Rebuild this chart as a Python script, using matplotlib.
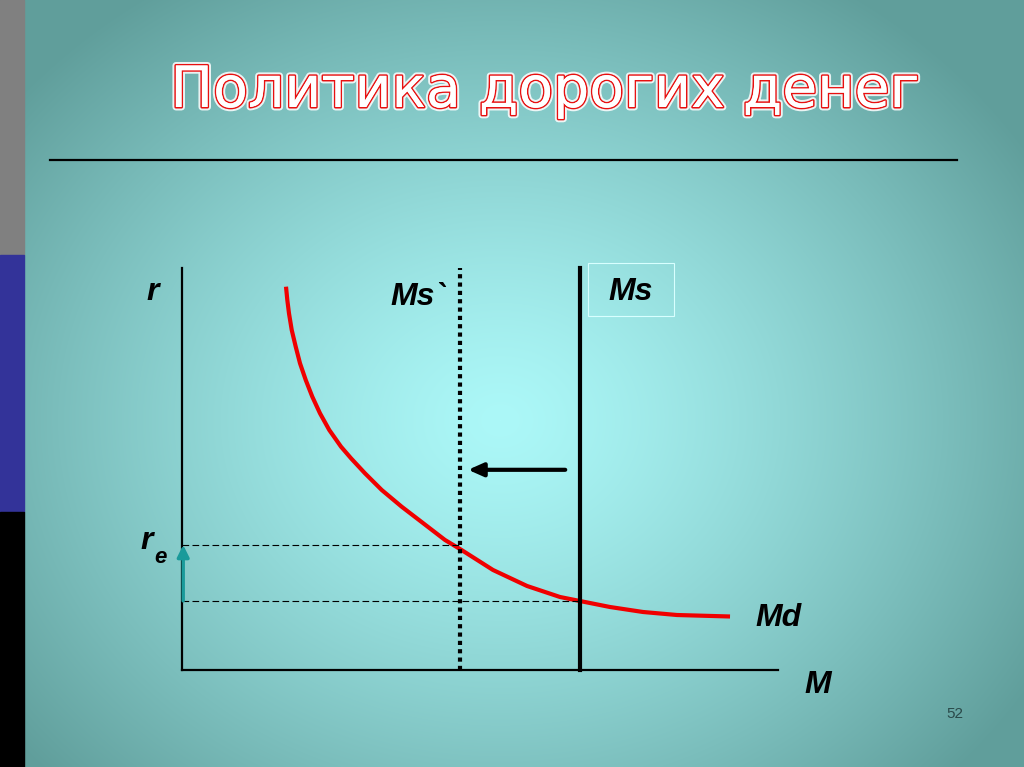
import numpy as np
import matplotlib
matplotlib.use("Agg")
import matplotlib.pyplot as plt
from matplotlib.patches import Rectangle
import matplotlib.patheffects as pe

# money demand curve (Md)
md_m = [1.745, 1.767, 1.795, 1.841, 1.908, 1.980, 2.076, 2.186, 2.315, 2.471,
        2.668, 2.836, 3.070, 3.351, 3.686, 4.049, 4.413, 4.664, 5.218, 5.789,
        6.342, 6.678, 7.181, 7.735, 8.305, 9.195]
md_r = [9.535, 9.204, 8.873, 8.458, 8.042, 7.629, 7.214, 6.799, 6.386, 5.970,
        5.555, 5.266, 4.893, 4.478, 4.062, 3.649, 3.234, 3.010, 2.488, 2.090,
        1.816, 1.716, 1.567, 1.443, 1.368, 1.331]

ms_old = 6.68   # Ms
ms_new = 4.66   # Ms`
r_old = 1.72
r_new = 3.11
title = "Политика дорогих денег"
page_no = "52"

W, H = 1024, 767
fig = plt.figure(figsize=(W / 100, H / 100), dpi=100)

# background: radial teal gradient + left colour strip
bg = fig.add_axes([0, 0, 1, 1])
yy, xx = np.mgrid[0:H, 0:W]
d = np.sqrt(((xx - 500) / 620.0) ** 2 + ((yy - 420) / 520.0) ** 2)
t = np.clip(d, 0, 1) ** 1.3
c0 = np.array([172, 248, 248]) / 255.0
c1 = np.array([96, 158, 155]) / 255.0
img = c0[None, None, :] * (1 - t[..., None]) + c1[None, None, :] * t[..., None]
bg.imshow(img, extent=[0, W, H, 0], aspect="auto")
bg.add_patch(Rectangle((0, 0), 24, 255, color="#808080"))
bg.add_patch(Rectangle((0, 255), 24, 257, color="#333399"))
bg.add_patch(Rectangle((0, 512), 24, 255, color="black"))
bg.plot([50, 957], [160, 160], color="black", lw=1.6)
bg.set_xlim(0, W)
bg.set_ylim(H, 0)
bg.axis("off")

fig.text(545 / W, 1 - 107 / H, title, ha="center", va="baseline",
         fontsize=41, family="DejaVu Sans", color="white",
         path_effects=[pe.withStroke(linewidth=5, foreground="white", alpha=0.85),
                       pe.withStroke(linewidth=2.2, foreground="#e81010"),
                       pe.Normal()])

# chart
ax = fig.add_axes([182 / W, (H - 670) / H, 596 / W, 402 / H])
ax.patch.set_alpha(0)
ax.set_xlim(0, 10)
ax.set_ylim(0, 10)
for s in ["top", "right"]:
    ax.spines[s].set_visible(False)
for s in ["left", "bottom"]:
    ax.spines[s].set_linewidth(1.6)
ax.set_xticks([])
ax.set_yticks([])

ax.plot(md_m, md_r, color="#f00000", lw=3, solid_capstyle="butt",
        solid_joinstyle="round", clip_on=False)
ax.plot([ms_old, ms_old], [0, 10], color="black", lw=3, clip_on=False)
ax.plot([ms_new, ms_new], [0, 10], color="black", lw=3, linestyle=(0, (1, 1)),
        dash_capstyle="butt", clip_on=False)
ax.plot([0, ms_new], [r_new, r_new], color="black", lw=0.8, linestyle=(0, (6, 3)))
ax.plot([0, ms_old], [r_old, r_old], color="black", lw=0.8, linestyle=(0, (6, 3)))

ax.annotate("", xy=(0.02, r_new), xytext=(0.02, r_old),
            arrowprops=dict(arrowstyle="-|>,head_length=0.7,head_width=0.35",
                            lw=2.5, color="#1a9a9a", shrinkA=0, shrinkB=0))
ax.annotate("", xy=(4.80, 4.98), xytext=(6.43, 4.98),
            arrowprops=dict(arrowstyle="-|>,head_length=0.9,head_width=0.4",
                            lw=3, color="black", shrinkA=0, shrinkB=0))

lab = dict(fontsize=23, family="Liberation Sans", fontweight="bold",
           style="italic", color="black", ha="center", va="center")
ax.text(-0.49, 9.40, "r", **lab)
ax.text(-0.60, 3.21, "r", **lab)
ax.text(-0.36, 2.80, "e", **{**lab, "fontsize": 16})
ax.text(3.96, 9.28, "Ms`", **lab)
ax.text(7.52, 9.40, "Ms", **lab)
ax.add_patch(Rectangle((6.81, 8.81), 1.45, 1.31, fill=False, edgecolor="#d8ffff",
                       lw=0.8, clip_on=False))
ax.text(10.0, 1.29, "Md", **lab)
ax.text(10.67, -0.37, "M", **lab)

fig.text(955 / W, 1 - 714 / H, page_no, fontsize=11, family="Liberation Sans",
         color="#2a4a4a", ha="center", va="center")

fig.savefig("out.png", dpi=100)
